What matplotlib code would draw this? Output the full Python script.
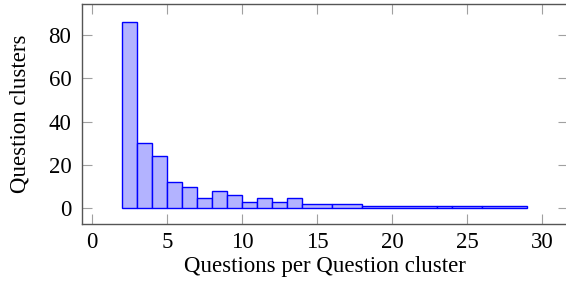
import numpy as np
import matplotlib.pyplot as plt

# bin edges and counts (ybar interval style)
bin_edges = [2, 3, 4, 5, 6, 7, 8, 9, 10, 11, 12, 13, 14, 16, 18, 23, 24, 26, 29]
counts = [86, 30, 24, 12, 10, 5, 8, 6, 3, 5, 3, 5, 2, 2, 1, 1, 1, 1]
x_ticks = [0, 5, 10, 15, 20, 25, 30]
y_ticks = [0, 20, 40, 60, 80]

plt.rcParams['font.family'] = ['Liberation Serif', 'DejaVu Serif']

fig = plt.figure(figsize=(5.66, 2.81), dpi=100)
ax = fig.add_axes([0.1443, 0.2028, 0.8588, 0.783])

edges = np.array(bin_edges, dtype=float)
widths = np.diff(edges)
ax.bar(edges[:-1], counts, width=widths, align='edge',
       facecolor='#b3b3ff', edgecolor='#0000ff', linewidth=1.0)

ax.set_xlim(-0.7, 31.7)
ax.set_ylim(-7.2, 94.4)
ax.set_xticks(x_ticks)
ax.set_yticks(y_ticks)
ax.tick_params(direction='in', top=True, right=True, length=7, width=0.8,
               color='#a0a0a0', labelsize=16.5, pad=6)
ax.tick_params(axis='y', pad=7.5)
for s in ax.spines.values():
    s.set_color('#555555')
    s.set_linewidth(1.0)

ax.set_xlabel('Questions per Question cluster', fontsize=16.5, labelpad=2)
ax.set_ylabel('Question clusters', fontsize=16.5, labelpad=13)

fig.savefig('out.png', dpi=100)
